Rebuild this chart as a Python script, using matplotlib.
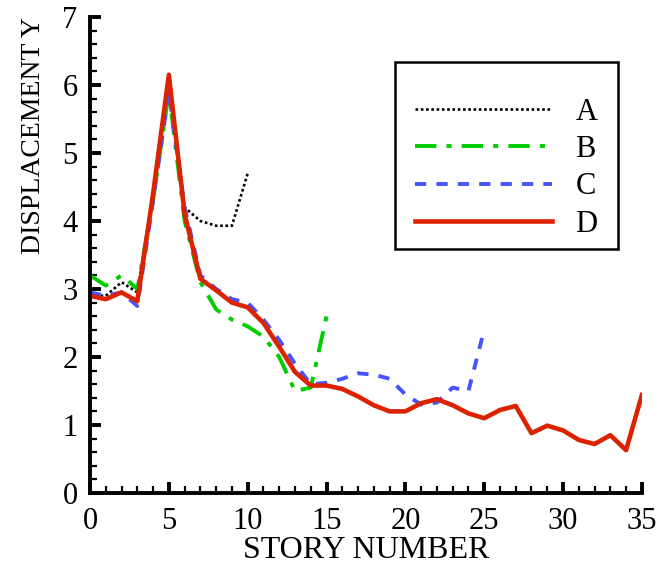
import matplotlib
matplotlib.use('Agg')
import matplotlib.pyplot as plt
from matplotlib.patches import Rectangle
from matplotlib.ticker import MultipleLocator

plt.rcParams['font.family'] = ['Liberation Serif', 'DejaVu Serif']

# story numbers and displacement for each case
story_a = list(range(0, 11))
disp_a = [2.9, 2.9, 3.1, 2.95, 4.4, 6.1, 4.2, 4.0, 3.93, 3.93, 4.7]

story_b = list(range(0, 16))
disp_b = [3.2, 3.05, 3.2, 3.0, 4.3, 5.9, 4.0, 3.1, 2.7, 2.55, 2.45, 2.3,
          2.0, 1.5, 1.55, 2.6]

story_c = list(range(0, 26))
disp_c = [2.95, 2.9, 2.95, 2.75, 4.3, 5.9, 4.2, 3.2, 3.0, 2.85, 2.8, 2.55,
          2.25, 1.9, 1.6, 1.62, 1.68, 1.76, 1.74, 1.68, 1.45, 1.3, 1.33,
          1.55, 1.5, 2.4]

story_d = list(range(0, 36))
disp_d = [2.9, 2.85, 2.95, 2.82, 4.4, 6.15, 4.1, 3.15, 2.98, 2.8, 2.73, 2.5,
          2.15, 1.78, 1.58, 1.58, 1.53, 1.42, 1.29, 1.2, 1.2, 1.32, 1.38,
          1.29, 1.17, 1.1, 1.22, 1.28, 0.88, 0.99, 0.92, 0.78, 0.72, 0.85,
          0.63, 1.44]

labels = ['A', 'B', 'C', 'D']

fig = plt.figure(figsize=(6.59, 5.69), dpi=100)
ax = fig.add_axes([0.1366, 0.1336, 0.8374, 0.8365])

ax.plot(story_a, disp_a, color='black', lw=1.9, linestyle=(0, (1, 1)), label=labels[0])
ax.plot(story_b, disp_b, color='#00cc00', lw=2.8, linestyle=(0, (5.5, 2.6, 1.3, 2.6)), label=labels[1])
ax.plot(story_c, disp_c, color='#4455ff', lw=2.8, linestyle=(0, (2.9, 2.6)), label=labels[2])
ax.plot(story_d, disp_d, color='#dd2200', lw=3.3, label=labels[3])

ax.set_xlim(0, 35)
ax.set_ylim(0, 7)
ax.xaxis.set_major_locator(MultipleLocator(5))
ax.xaxis.set_minor_locator(MultipleLocator(1))
ax.yaxis.set_major_locator(MultipleLocator(1))
ax.yaxis.set_minor_locator(MultipleLocator(0.2))

for side in ['top', 'right']:
    ax.spines[side].set_visible(False)
for side in ['left', 'bottom']:
    ax.spines[side].set_linewidth(2.8)

ax.tick_params(which='major', direction='in', length=8, width=2.8, labelsize=22, pad=9)
ax.tick_params(axis='x', which='major', pad=10)
ax.tick_params(which='minor', direction='in', length=5, width=1.6)

ax.set_xlabel('STORY NUMBER', fontsize=23, labelpad=0)
ax.set_ylabel('DISPLACEMENT Y', fontsize=20, labelpad=12, loc='top')

# legend entries without frame, frame drawn as its own box
ax.legend(loc='upper left', bbox_to_anchor=(0.5888, 0.83), fontsize=22,
          handlelength=4.5, handletextpad=0.75, labelspacing=0.27,
          borderpad=0, borderaxespad=0, frameon=False)
ax.add_patch(Rectangle((0.5525, 0.5126), 0.404, 0.393, transform=ax.transAxes,
                       fill=False, edgecolor='black', lw=1.8, zorder=5))

fig.savefig('out.png', dpi=100)
